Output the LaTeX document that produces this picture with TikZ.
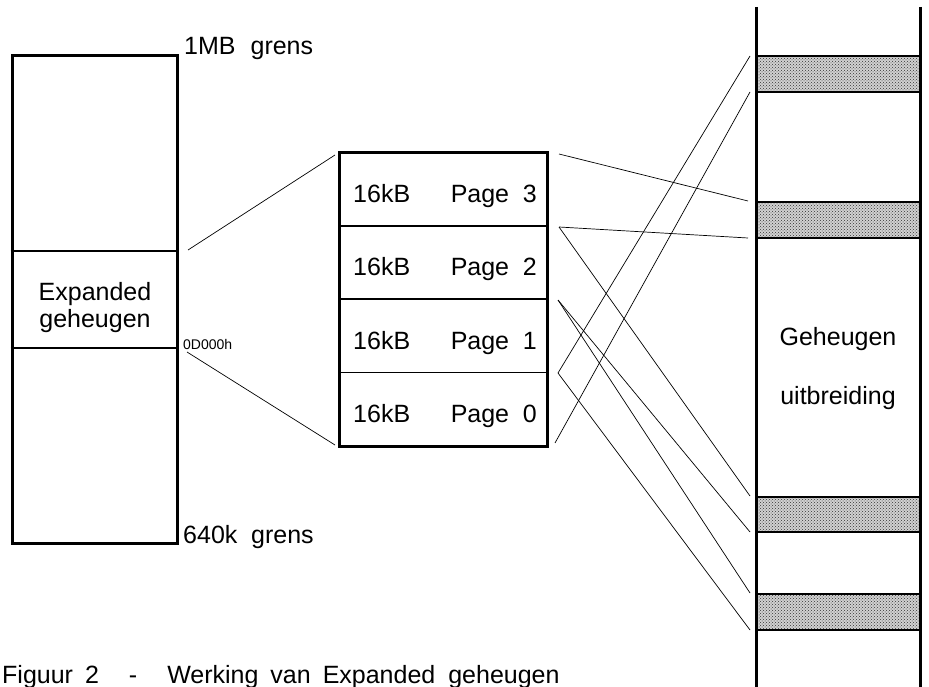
\documentclass[tikz,border=0pt]{standalone}
\usepackage{fontspec}
\setmainfont{Liberation Sans}
\usetikzlibrary{patterns}
\begin{document}
\begin{tikzpicture}[x=1pt,y=-1pt,
  thickbox/.style={draw, line width=3pt, inner sep=0pt},
  divline/.style={line width=1.5pt},
  link/.style={line width=0.7pt},
  lbl/.style={inner sep=0pt, anchor=base west, font=\fontsize{25}{30}\selectfont},
  clbl/.style={lbl, anchor=base},
  small/.style={inner sep=0pt, anchor=base west, font=\fontsize{14}{16}\selectfont},
  pagebox/.style={draw, line width=1.5pt, minimum width=207pt, minimum height=73pt, inner sep=0pt},
  band/.style={draw, line width=2pt, preaction={fill=black!18}, pattern=crosshatch dots, pattern color=black!80, minimum width=164pt, inner sep=0pt}]
\useasboundingbox (0,0) rectangle (929,687);

% ---------- left memory box ----------
\node[thickbox, minimum width=165pt, minimum height=487pt] (leftbox) at (94.5,299.5) {};
\coordinate (ema) at (177,251);
\coordinate (emb) at (177,348);
\draw[divline] (leftbox.west |- ema) -- (ema);
\draw[divline] (leftbox.west |- emb) -- (emb);
\node[clbl] (exp1) at (95,300) {Expanded};
\node[clbl] (exp2) at (95,327) {geheugen};
\node[lbl] (top) at (184,55) {1MB\hspace{0.6em}grens};
\node[lbl] (bot) at (183,543) {640k\hspace{0.55em}grens};
\node[small] (addr) at (183,349) {0D000h};

% ---------- page frame ----------
\foreach \i/\y in {3/189.5, 2/262.5, 1/336, 0/409}{
  \node[pagebox] (pg\i) at (443.5,\y) {};
  \node[lbl] (kb\i) at (353,\y+13) {16kB};
  \node[lbl, anchor=base east] (pn\i) at (537,\y+13) {Page\hspace{0.55em}\i};
}
\draw[line width=3pt] (pg3.north west) rectangle (pg0.south east);

% ---------- extended memory column ----------
\coordinate (colLt) at (756,7);
\coordinate (colLb) at (756,690);
\coordinate (colRt) at (920,7);
\coordinate (colRb) at (920,690);
\node[band, minimum height=36pt] (b1) at (838,74) {};
\node[band, minimum height=36pt] (b2) at (838,220) {};
\node[band, minimum height=35pt] (b3) at (838,514.5) {};
\node[band, minimum height=36pt] (b4) at (838,612) {};
\draw[line width=3pt] (colLt) -- (colLb);
\draw[line width=3pt] (colRt) -- (colRb);
\node[clbl] (geh1) at (838,345) {Geheugen};
\node[clbl] (geh2) at (838,404) {uitbreiding};

% ---------- connector end points ----------
\coordinate (la) at (188,250);
\coordinate (lb) at (187,352);
\coordinate (ma) at (335,155);
\coordinate (mb) at (335,445);
\coordinate (r3t) at (559,154);
\coordinate (r32) at (559,227);
\coordinate (r21) at (558,300);
\coordinate (r10) at (558,373);
\coordinate (r0b) at (555,443);
\coordinate (b1t) at (750,56);
\coordinate (b1b) at (750,92);
\coordinate (b2t) at (748,201);
\coordinate (b2b) at (748,238);
\coordinate (b3t) at (750,496);
\coordinate (b3b) at (750,532);
\coordinate (b4t) at (750,593);
\coordinate (b4b) at (750,630);

\draw[link] (la) -- (ma);
\draw[link] (lb) -- (mb);
\draw[link] (r3t) -- (b2t);
\draw[link] (r32) -- (b2b);
\draw[link] (r32) -- (b3t);
\draw[link] (r21) -- (b3b);
\draw[link] (r21) -- (b4t);
\draw[link] (r10) -- (b4b);
\draw[link] (r10) -- (b1t);
\draw[link] (r0b) -- (b1b);

% ---------- caption ----------
\node[lbl] (cap) at (2,683) {Figuur\hspace{12pt}2\hspace{30pt}-\hspace{30pt}Werking\hspace{12pt}van\hspace{12pt}Expanded\hspace{13pt}geheugen};
\end{tikzpicture}
\end{document}
